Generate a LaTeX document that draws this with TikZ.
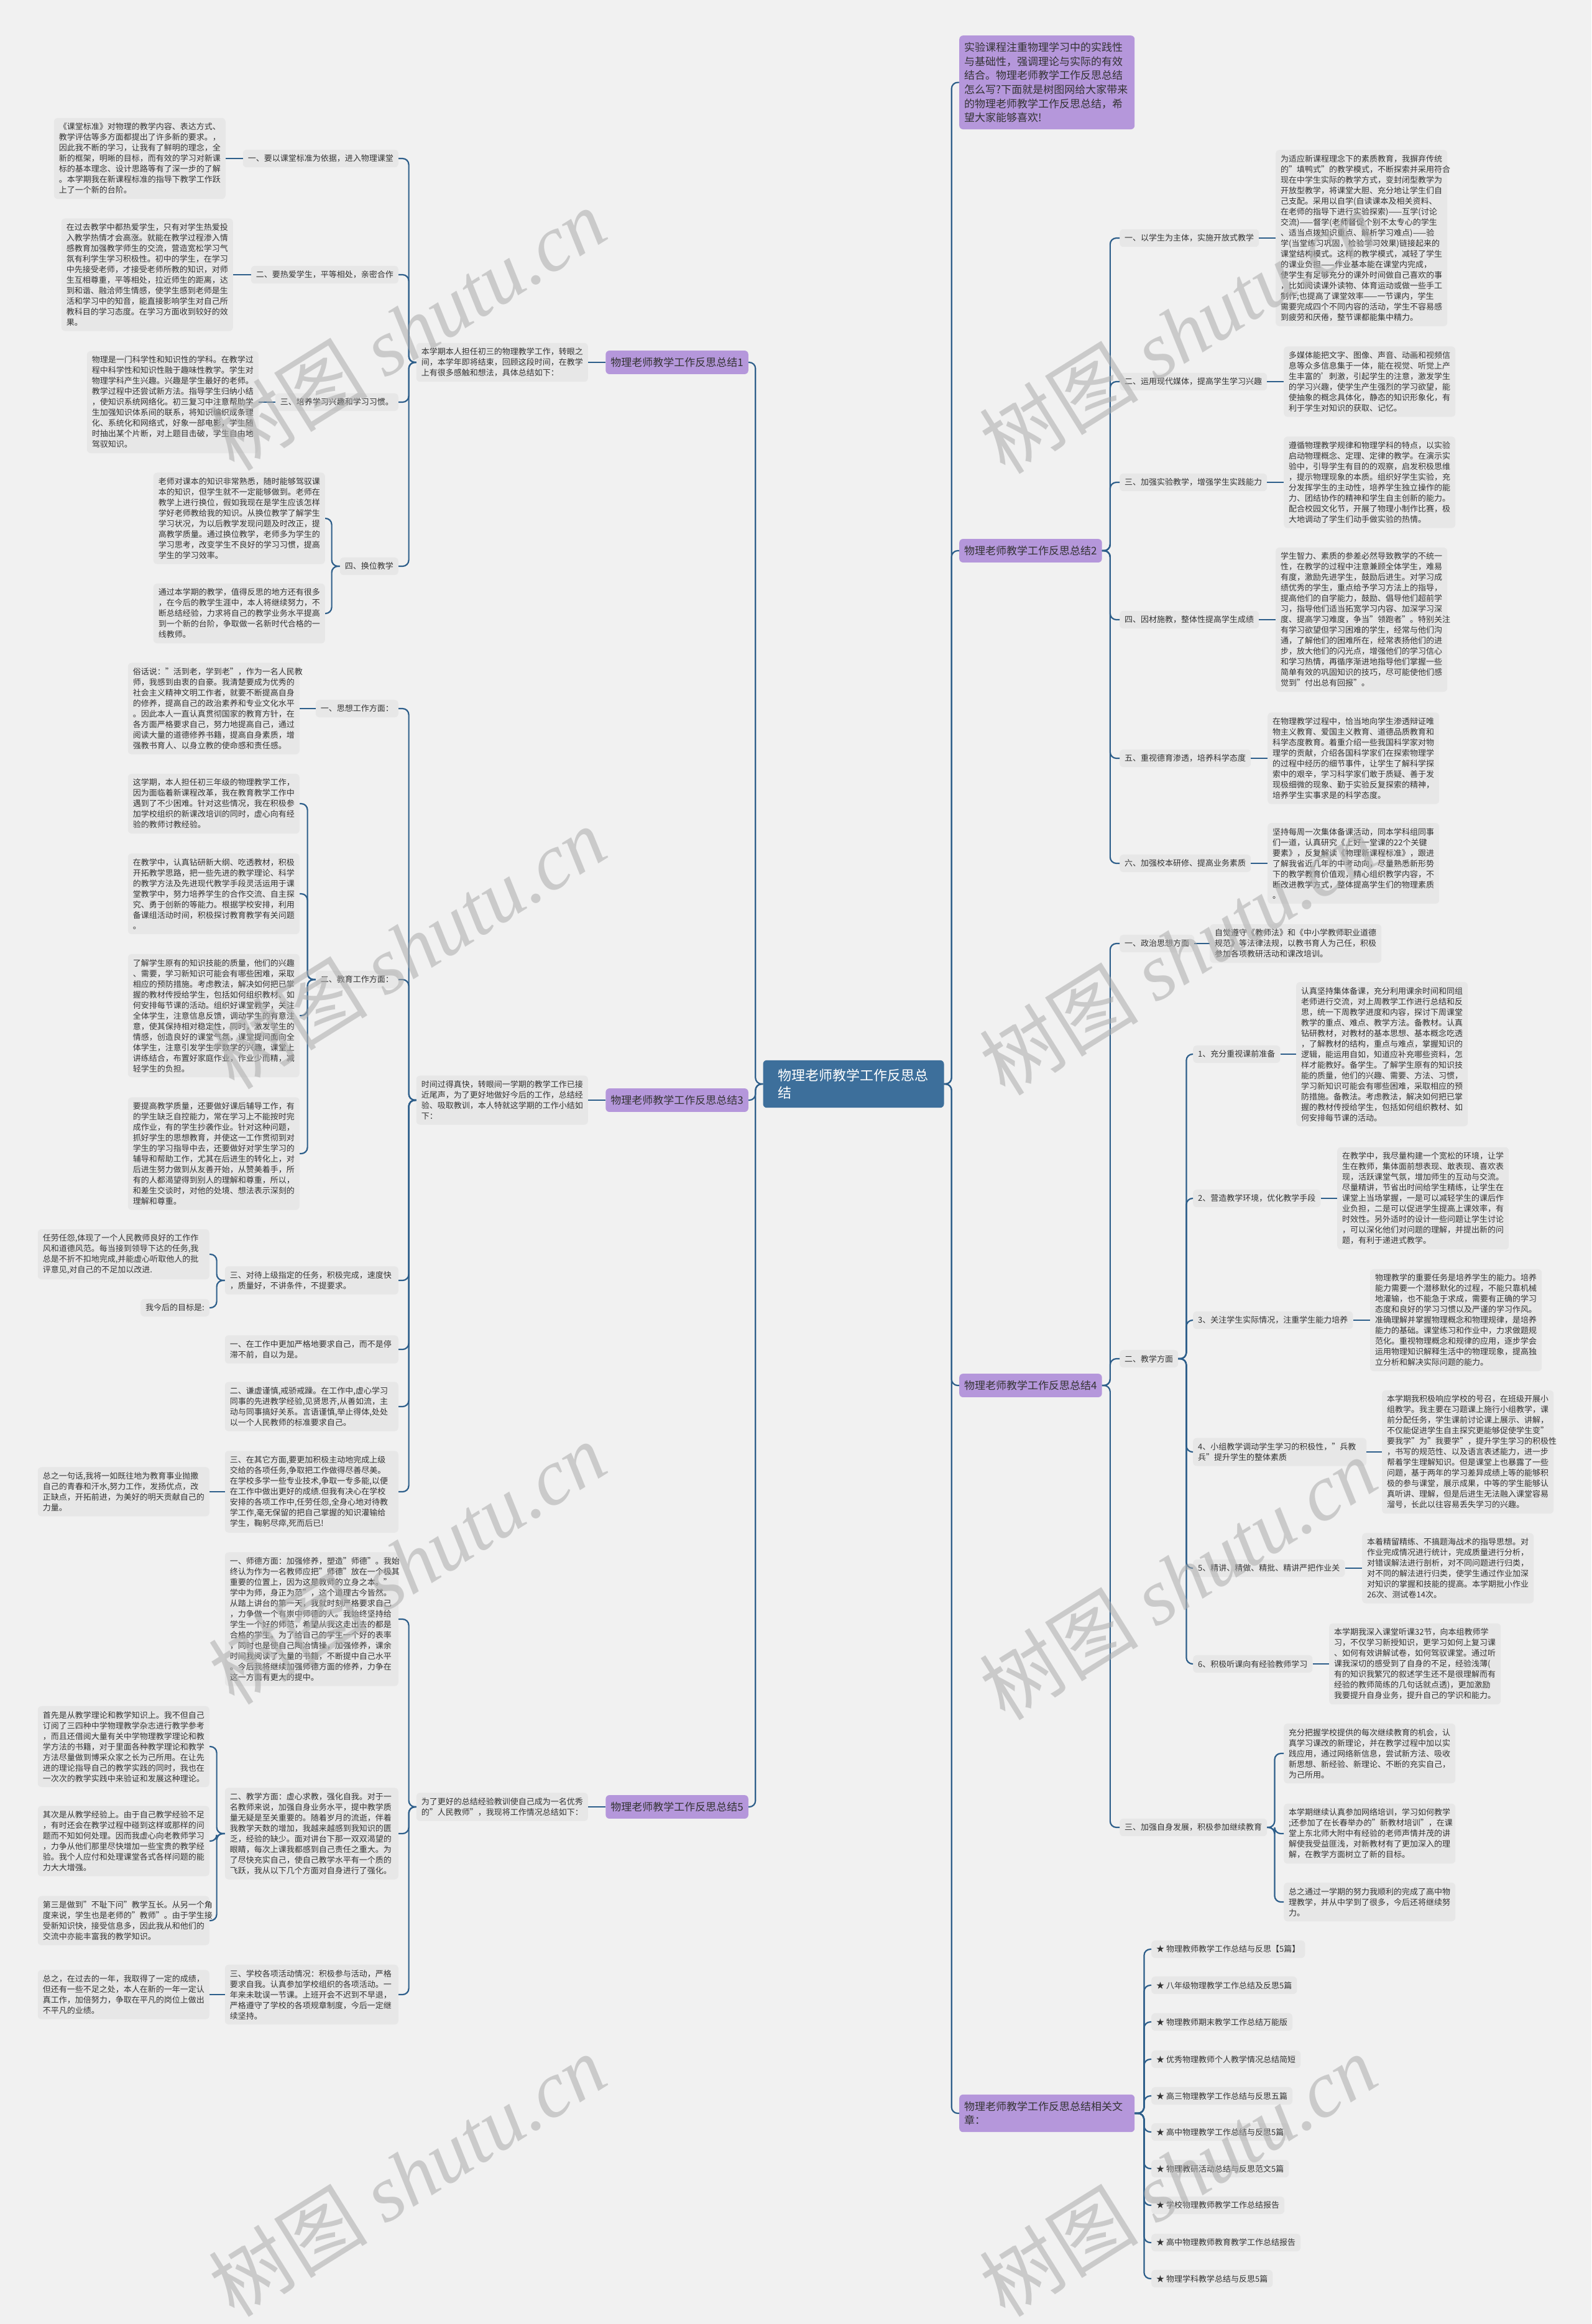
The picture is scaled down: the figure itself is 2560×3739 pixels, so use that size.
\documentclass[tikz,border=0pt]{standalone}
\usepackage{fontspec}
\setmainfont{Noto Sans CJK SC}
\newfontfamily\wmlatin{Liberation Serif}
\usetikzlibrary{calc}
\definecolor{bgc}{HTML}{F1F1F1}
\definecolor{boxc}{HTML}{E7E7E7}
\definecolor{linec}{HTML}{2D5E8A}
\definecolor{purp}{HTML}{B597DB}
\definecolor{rootc}{HTML}{3D6F9B}
\definecolor{txtc}{HTML}{333333}
\begin{document}
\begin{tikzpicture}[x=1pt,y=-1pt,
  conn/.style={draw=linec, line width=2.2pt, rounded corners=10pt},
  blk/.style={fill=boxc, rounded corners=6pt, inner xsep=8pt, inner ysep=8pt, text width=260pt, align=left, font=\fontsize{13}{17}\selectfont, text=txtc},
  lbl/.style={fill=boxc, rounded corners=6pt, inner xsep=8pt, inner ysep=8pt, align=left, font=\fontsize{13}{17}\selectfont, text=txtc},
  lblw/.style={lbl, text width=263pt},
  lvl/.style={fill=purp, rounded corners=6pt, inner xsep=8pt, inner ysep=11pt, font=\fontsize{17}{22.6}\selectfont, text=txtc, align=left},
  rootn/.style={fill=rootc, rounded corners=6pt, inner xsep=24pt, inner ysep=14pt, text width=243pt, align=left, font=\fontsize{22}{28}\selectfont, text=white},
  wm/.style={text=black!33, opacity=0.55, rotate=32, font=\fontsize{128}{128}\selectfont}
]
\fill[bgc] (0,0) rectangle (2560,3739);
\useasboundingbox (0,0) rectangle (2560,3739);

% ---------- root and level 1 ----------
\node[rootn] (root) at (1373,1744) {物理老师教学工作反思总\\结};
\node[lvl, anchor=east] (l1) at (1204,583) {物理老师教学工作反思总结1};
\node[lvl, anchor=east] (l3) at (1204,1770) {物理老师教学工作反思总结3};
\node[lvl, anchor=east] (l5) at (1204,2907) {物理老师教学工作反思总结5};
\node[lvl, anchor=north west, text width=266pt] (intro) at (1543,57) {实验课程注重物理学习中的实践性\\与基础性，强调理论与实际的有效\\结合。物理老师教学工作反思总结\\怎么写?下面就是树图网给大家带来\\的物理老师教学工作反思总结，希\\望大家能够喜欢!};
\node[lvl, anchor=west] (l2) at (1543,886) {物理老师教学工作反思总结2};
\node[lvl, anchor=west] (l4) at (1543,2229) {物理老师教学工作反思总结4};
\node[lvl, anchor=west, text width=266pt] (l6) at (1543,3400) {物理老师教学工作反思总结相关文\\章：};

% ---------- branch 1 ----------
\node[blk, anchor=east] (m1) at (946,583) {本学期本人担任初三的物理教学工作，转眼之\\间，本学年即将结束，回顾这段时间，在教学\\上有很多感触和想法，具体总结如下：};
\node[lbl, anchor=east] (a1) at (641,255) {一、要以课堂标准为依据，进入物理课堂};
\node[lbl, anchor=east] (a2) at (641,442) {二、要热爱学生，平等相处，亲密合作};
\node[lbl, anchor=east] (a3) at (641,647) {三、培养学习兴趣和学习习惯。};
\node[lbl, anchor=east] (a4) at (641,911) {四、换位教学};
\node[blk, anchor=east] (a1b) at (363,255) {《课堂标准》对物理的教学内容、表达方式、\\教学评估等多方面都提出了许多新的要求。，\\因此我不断的学习，让我有了鲜明的理念，全\\新的框架，明晰的目标，而有效的学习对新课\\标的基本理念、设计思路等有了深一步的了解\\。本学期我在新课程标准的指导下教学工作跃\\上了一个新的台阶。};
\node[blk, anchor=east] (a2b) at (375,442) {在过去教学中都热爱学生，只有对学生热爱投\\入教学热情才会高涨。就能在教学过程渗入情\\感教育加强教学师生的交流，营造宽松学习气\\氛有利学生学习积极性。初中的学生，在学习\\中先接受老师，才接受老师所教的知识，对师\\生互相尊重，平等相处，拉近师生的距离，达\\到和谐、融洽师生情感，使学生感到老师是生\\活和学习中的知音，能直接影响学生对自己所\\教科目的学习态度。在学习方面收到较好的效\\果。};
\node[blk, anchor=east] (a3b) at (416,647) {物理是一门科学性和知识性的学科。在教学过\\程中科学性和知识性融于趣味性教学。学生对\\物理学科产生兴趣。兴趣是学生最好的老师。\\教学过程中还尝试新方法。指导学生归纳小结\\，使知识系统网络化。初三复习中注意帮助学\\生加强知识体系间的联系，将知识编织成条理\\化、系统化和网络式，好象一部电影，学生随\\时抽出某个片断，对上题目击破，学生自由地\\驾驭知识。};
\node[blk, anchor=east] (a4b) at (523,834) {老师对课本的知识非常熟悉，随时能够驾驭课\\本的知识，但学生就不一定能够做到。老师在\\教学上进行换位，假如我现在是学生应该怎样\\学好老师教给我的知识。从换位教学了解学生\\学习状况，为以后教学发现问题及时改正，提\\高教学质量。通过换位教学，老师多为学生的\\学习思考，改变学生不良好的学习习惯，提高\\学生的学习效率。};
\node[blk, anchor=east] (a5b) at (523,987) {通过本学期的教学，值得反思的地方还有很多\\，在今后的教学生涯中，本人将继续努力，不\\断总结经验，力求将自己的教学业务水平提高\\到一个新的台阶，争取做一名新时代合格的一\\线教师。};

% ---------- branch 3 ----------
\node[blk, anchor=east] (m3) at (946,1770) {时间过得真快，转眼间一学期的教学工作已接\\近尾声，为了更好地做好今后的工作，总结经\\验、吸取教训，本人特就这学期的工作小结如\\下：};
\node[lbl, anchor=east] (b1) at (641,1140) {一、思想工作方面：};
\node[lbl, anchor=east] (b2) at (641,1576) {二、教育工作方面：};
\node[lblw, anchor=east] (b3) at (641,2060) {三、对待上级指定的任务，积极完成，速度快\\，质量好，不讲条件，不提要求。};
\node[lblw, anchor=east] (b4) at (641,2171) {一、在工作中更加严格地要求自己，而不是停\\滞不前，自以为是。};
\node[lblw, anchor=east] (b5) at (641,2263) {二、谦虚谨慎,戒骄戒躁。在工作中,虚心学习\\同事的先进教学经验,见贤思齐,从善如流，主\\动与同事搞好关系。言语谨慎,举止得体,处处\\以一个人民教师的标准要求自己。};
\node[lblw, anchor=east] (b6) at (641,2400) {三、在其它方面,要更加积极主动地完成上级\\交给的各项任务,争取把工作做得尽善尽美。\\在学校多学一些专业技术,争取一专多能,以便\\在工作中做出更好的成绩.但我有决心在学校\\安排的各项工作中,任劳任怨,全身心地对待教\\学工作,毫无保留的把自己掌握的知识灌输给\\学生，鞠躬尽瘁,死而后已!};
\node[blk, anchor=east] (b1b) at (482,1140) {俗话说："活到老，学到老"，作为一名人民教\\师，我感到由衷的自豪。我清楚要成为优秀的\\社会主义精神文明工作者，就要不断提高自身\\的修养，提高自己的政治素养和专业文化水平\\。因此本人一直认真贯彻国家的教育方针，在\\各方面严格要求自己，努力地提高自己，通过\\阅读大量的道德修养书籍，提高自身素质，增\\强教书育人、以身立教的使命感和责任感。};
\node[blk, anchor=east] (b2b) at (482,1293) {这学期，本人担任初三年级的物理教学工作，\\因为面临着新课程改革，我在教育教学工作中\\遇到了不少困难。针对这些情况，我在积极参\\加学校组织的新课改培训的同时，虚心向有经\\验的教师讨教经验。};
\node[blk, anchor=east] (b3b) at (482,1438) {在教学中，认真钻研新大纲、吃透教材，积极\\开拓教学思路，把一些先进的教学理论、科学\\的教学方法及先进现代教学手段灵活运用于课\\堂教学中，努力培养学生的合作交流、自主探\\究、勇于创新的等能力。根据学校安排，利用\\备课组活动时间，积极探讨教育教学有关问题\\。};
\node[blk, anchor=east] (b4b) at (482,1634) {了解学生原有的知识技能的质量，他们的兴趣\\、需要，学习新知识可能会有哪些困难，采取\\相应的预防措施。考虑教法，解决如何把已掌\\握的教材传授给学生，包括如何组织教材、如\\何安排每节课的活动。组织好课堂教学，关注\\全体学生，注意信息反馈，调动学生的有意注\\意，使其保持相对稳定性，同时，激发学生的\\情感，创造良好的课堂气氛，课堂提问面向全\\体学生，注意引发学生学数学的兴趣，课堂上\\讲练结合，布置好家庭作业，作业少而精，减\\轻学生的负担。};
\node[blk, anchor=east] (b5b) at (482,1856) {要提高教学质量，还要做好课后辅导工作，有\\的学生缺乏自控能力，常在学习上不能按时完\\成作业，有的学生抄袭作业。针对这种问题，\\抓好学生的思想教育，并使这一工作贯彻到对\\学生的学习指导中去，还要做好对学生学习的\\辅导和帮助工作，尤其在后进生的转化上，对\\后进生努力做到从友善开始，从赞美着手，所\\有的人都渴望得到别人的理解和尊重，所以，\\和差生交谈时，对他的处境、想法表示深刻的\\理解和尊重。};
\node[blk, anchor=east] (b6b) at (337,2018) {任劳任怨,体现了一个人民教师良好的工作作\\风和道德风范。每当接到领导下达的任务,我\\总是不折不扣地完成,并能虚心听取他人的批\\评意见,对自己的不足加以改进.};
\node[lbl, anchor=east] (b7b) at (337,2104) {我今后的目标是:};
\node[blk, anchor=east] (b8b) at (337,2400) {总之一句话,我将一如既往地为教育事业抛撒\\自己的青春和汗水,努力工作，发扬优点，改\\正缺点，开拓前进，为美好的明天贡献自己的\\力量。};

% ---------- branch 5 ----------
\node[blk, anchor=east] (m5) at (946,2907) {为了更好的总结经验教训使自己成为一名优秀\\的"人民教师"，我现将工作情况总结如下：};
\node[lblw, anchor=east] (c1) at (641,2605) {一、师德方面：加强修养，塑造"师德"。我始\\终认为作为一名教师应把"师德"放在一个极其\\重要的位置上，因为这是教师的立身之本。"\\学中为师，身正为范"，这个道理古今皆然。\\从踏上讲台的第一天，我就时刻严格要求自己\\，力争做一个有崇中师德的人。我始终坚持给\\学生一个好的师范，希望从我这走出去的都是\\合格的学生。为了给自己的学生一个好的表率\\，同时也是使自己陶冶情操，加强修养，课余\\时间我阅读了大量的书籍，不断提中自己水平\\。今后我将继续加强师德方面的修养，力争在\\这一方面有更大的提中。};
\node[lblw, anchor=east] (c2) at (641,2950) {二、教学方面：虚心求教，强化自我。对于一\\名教师来说，加强自身业务水平，提中教学质\\量无疑是至关重要的。随着岁月的流逝，伴着\\我教学天数的增加，我越来越感到我知识的匮\\乏，经验的缺少。面对讲台下那一双双渴望的\\眼睛，每次上课我都感到自己责任之重大。为\\了尽快充实自己，使自己教学水平有一个质的\\飞跃，我从以下几个方面对自身进行了强化。};
\node[lblw, anchor=east] (c3) at (641,3209) {三、学校各项活动情况：积极参与活动，严格\\要求自我。认真参加学校组织的各项活动。一\\年来未耽误一节课。上班开会不迟到不早退，\\严格遵守了学校的各项规章制度，今后一定继\\续坚持。};
\node[blk, anchor=east] (c2b) at (337,2810) {首先是从教学理论和教学知识上。我不但自己\\订阅了三四种中学物理教学杂志进行教学参考\\，而且还借阅大量有关中学物理教学理论和教\\学方法的书籍，对于里面各种教学理论和教学\\方法尽量做到博采众家之长为己所用。在让先\\进的理论指导自己的教学实践的同时，我也在\\一次次的教学实践中来验证和发展这种理论。};
\node[blk, anchor=east] (c3b) at (337,2962) {其次是从教学经验上。由于自己教学经验不足\\，有时还会在教学过程中碰到这样或那样的问\\题而不知如何处理。因而我虚心向老教师学习\\，力争从他们那里尽快增加一些宝贵的教学经\\验。我个人应付和处理课堂各式各样问题的能\\力大大增强。};
\node[blk, anchor=east] (c4b) at (337,3090) {第三是做到"不耻下问"教学互长。从另一个角\\度来说，学生也是老师的"教师"。由于学生接\\受新知识快，接受信息多，因此我从和他们的\\交流中亦能丰富我的教学知识。};
\node[blk, anchor=east] (c5b) at (337,3209) {总之，在过去的一年，我取得了一定的成绩，\\但还有一些不足之处，本人在新的一年一定认\\真工作，加倍努力，争取在平凡的岗位上做出\\不平凡的业绩。};

% ---------- branch 2 ----------
\node[lbl, anchor=west] (r21) at (1801,383) {一、以学生为主体，实施开放式教学};
\node[lbl, anchor=west] (r22) at (1801,614) {二、运用现代媒体，提高学生学习兴趣};
\node[lbl, anchor=west] (r23) at (1801,776) {三、加强实验教学，增强学生实践能力};
\node[lbl, anchor=west] (r24) at (1801,997) {四、因材施教，整体性提高学生成绩};
\node[lbl, anchor=west] (r25) at (1801,1220) {五、重视德育渗透，培养科学态度};
\node[lbl, anchor=west] (r26) at (1801,1389) {六、加强校本研修、提高业务素质};
\node[blk, anchor=west] (r21b) at (2052,383) {为适应新课程理念下的素质教育，我摒弃传统\\的"填鸭式"的教学模式，不断探索并采用符合\\现在中学生实际的教学方式，变封闭型教学为\\开放型教学，将课堂大胆、充分地让学生们自\\己支配。采用以自学(自读课本及相关资料、\\在老师的指导下进行实验探索)——互学(讨论\\交流)——督学(老师督促个别不太专心的学生\\、适当点拨知识重点、解析学习难点)——验\\学(当堂练习巩固，检验学习效果)链接起来的\\课堂结构模式。这样的教学模式，减轻了学生\\的课业负担——作业基本能在课堂内完成，\\使学生有足够充分的课外时间做自己喜欢的事\\，比如阅读课外读物、体育运动或做一些手工\\制作;也提高了课堂效率——一节课内，学生\\需要完成四个不同内容的活动，学生不容易感\\到疲劳和厌倦，整节课都能集中精力。};
\node[blk, anchor=west] (r22b) at (2065,614) {多媒体能把文字、图像、声音、动画和视频信\\息等众多信息集于一体，能在视觉、听觉上产\\生丰富的'刺激，引起学生的注意，激发学生\\的学习兴趣，使学生产生强烈的学习欲望，能\\使抽象的概念具体化，静态的知识形象化，有\\利于学生对知识的获取、记忆。};
\node[blk, anchor=west] (r23b) at (2065,776) {遵循物理教学规律和物理学科的特点，以实验\\启动物理概念、定理、定律的教学。在演示实\\验中，引导学生有目的的观察，启发积极思维\\，提示物理现象的本质。组织好学生实验，充\\分发挥学生的主动性，培养学生独立操作的能\\力、团结协作的精神和学生自主创新的能力。\\配合校园文化节，开展了物理小制作比赛，极\\大地调动了学生们动手做实验的热情。};
\node[blk, anchor=west] (r24b) at (2052,997) {学生智力、素质的参差必然导致教学的不统一\\性，在教学的过程中注意兼顾全体学生，难易\\有度，激励先进学生，鼓励后进生。对学习成\\绩优秀的学生，重点给予学习方法上的指导，\\提高他们的自学能力，鼓励、倡导他们超前学\\习，指导他们适当拓宽学习内容、加深学习深\\度、提高学习难度，争当"领跑者"。特别关注\\有学习欲望但学习困难的学生，经常与他们沟\\通，了解他们的困难所在，经常表扬他们的进\\步，放大他们的闪光点，增强他们的学习信心\\和学习热情，再循序渐进地指导他们掌握一些\\简单有效的巩固知识的技巧，尽可能使他们感\\觉到"付出总有回报"。};
\node[blk, anchor=west] (r25b) at (2039,1220) {在物理教学过程中，恰当地向学生渗透辩证唯\\物主义教育、爱国主义教育、道德品质教育和\\科学态度教育。着重介绍一些我国科学家对物\\理学的贡献，介绍各国科学家们在探索物理学\\的过程中经历的细节事件，让学生了解科学探\\索中的艰辛，学习科学家们敢于质疑、善于发\\现极细微的现象、勤于实验反复探索的精神，\\培养学生实事求是的科学态度。};
\node[blk, anchor=west] (r26b) at (2039,1389) {坚持每周一次集体备课活动，同本学科组同事\\们一道，认真研究《上好一堂课的22个关键\\要素》，反复解读《物理新课程标准》，跟进\\了解我省近几年的中考动向，尽量熟悉新形势\\下的教学教育价值观，精心组织教学内容，不\\断改进教学方式，整体提高学生们的物理素质\\。};

% ---------- branch 4 ----------
\node[lbl, anchor=west] (r41) at (1801,1518) {一、政治思想方面};
\node[lbl, anchor=west] (r42) at (1801,2186) {二、教学方面};
\node[lbl, anchor=west] (r43) at (1801,2940) {三、加强自身发展，积极参加继续教育};
\node[blk, anchor=west] (r41b) at (1946,1518) {自觉遵守《教师法》和《中小学教师职业道德\\规范》等法律法规，以教书育人为己任，积极\\参加各项教研活动和课改培训。};
\node[lbl, anchor=west] (s1) at (1919,1696) {1、充分重视课前准备};
\node[lbl, anchor=west] (s2) at (1919,1928) {2、营造教学环境，优化教学手段};
\node[lbl, anchor=west] (s3) at (1919,2124) {3、关注学生实际情况，注重学生能力培养};
\node[lblw, anchor=west] (s4) at (1919,2336) {4、小组教学调动学生学习的积极性，"兵教\\兵"提升学生的整体素质};
\node[lbl, anchor=west] (s5) at (1919,2523) {5、精讲、精做、精批、精讲严把作业关};
\node[lbl, anchor=west] (s6) at (1919,2677) {6、积极听课向有经验教师学习};
\node[blk, anchor=west] (s1b) at (2085,1696) {认真坚持集体备课，充分利用课余时间和同组\\老师进行交流，对上周教学工作进行总结和反\\思，统一下周教学进度和内容，探讨下周课堂\\教学的重点、难点、教学方法。备教材。认真\\钻研教材，对教材的基本思想、基本概念吃透\\，了解教材的结构，重点与难点，掌握知识的\\逻辑，能运用自如，知道应补充哪些资料，怎\\样才能教好。备学生。了解学生原有的知识技\\能的质量，他们的兴趣、需要、方法、习惯，\\学习新知识可能会有哪些困难，采取相应的预\\防措施。备教法。考虑教法，解决如何把已掌\\握的教材传授给学生，包括如何组织教材、如\\何安排每节课的活动。};
\node[blk, anchor=west] (s2b) at (2151,1928) {在教学中，我尽量构建一个宽松的环境，让学\\生在教师，集体面前想表现、敢表现、喜欢表\\现，活跃课堂气氛，增加师生的互动与交流。\\尽量精讲，节省出时间给学生精练，让学生在\\课堂上当场掌握，一是可以减轻学生的课后作\\业负担，二是可以促进学生提高上课效率，有\\时效性。另外适时的设计一些问题让学生讨论\\，可以深化他们对问题的理解，并提出新的问\\题，有利于递进式教学。};
\node[blk, anchor=west] (s3b) at (2204,2124) {物理教学的重要任务是培养学生的能力。培养\\能力需要一个潜移默化的过程，不能只靠机械\\地灌输，也不能急于求成，需要有正确的学习\\态度和良好的学习习惯以及严谨的学习作风。\\准确理解并掌握物理概念和物理规律，是培养\\能力的基础。课堂练习和作业中，力求做题规\\范化。重视物理概念和规律的应用，逐步学会\\运用物理知识解释生活中的物理现象，提高独\\立分析和解决实际问题的能力。};
\node[blk, anchor=west] (s4b) at (2223,2336) {本学期我积极响应学校的号召，在班级开展小\\组教学。我主要在习题课上施行小组教学，课\\前分配任务，学生课前讨论课上展示、讲解，\\不仅能促进学生自主探究更能够促使学生变"\\要我学"为"我要学"，提升学生学习的积极性\\，书写的规范性、以及语言表述能力，进一步\\帮着学生理解知识。但是课堂上也暴露了一些\\问题，基于两年的学习差异成绩上等的能够积\\极的参与课堂，展示成果，中等的学生能够认\\真听讲、理解，但是后进生无法融入课堂容易\\溜号，长此以往容易丢失学习的兴趣。};
\node[blk, anchor=west] (s5b) at (2191,2523) {本着精留精练、不搞题海战术的指导思想。对\\作业完成情况进行统计，完成质量进行分析，\\对错误解法进行剖析，对不同问题进行归类，\\对不同的解法进行归类，使学生通过作业加深\\对知识的掌握和技能的提高。本学期批小作业\\26次、测试卷14次。};
\node[blk, anchor=west] (s6b) at (2138,2677) {本学期我深入课堂听课32节，向本组教师学\\习，不仅学习新授知识，更学习如何上复习课\\、如何有效讲解试卷，如何驾驭课堂。通过听\\课我深切的感受到了自身的不足，经验浅薄(\\有的知识我繁冗的叙述学生还不是很理解而有\\经验的教师简练的几句话就点透)，更加激励\\我要提升自身业务，提升自己的学识和能力。};
\node[blk, anchor=west] (t1b) at (2065,2821) {充分把握学校提供的每次继续教育的机会，认\\真学习课改的新理论，并在教学过程中加以实\\践应用，通过网络新信息，尝试新方法、吸收\\新思想、新经验、新理论、不断的充实自己，\\为己所用。};
\node[blk, anchor=west] (t2b) at (2065,2950) {本学期继续认真参加网络培训，学习如何教学\\;还参加了在长春举办的"新教材培训"，在课\\堂上东北师大附中有经验的老师声情并茂的讲\\解使我受益匪浅，对新教材有了更加深入的理\\解，在教学方面树立了新的目标。};
\node[blk, anchor=west] (t3b) at (2065,3060) {总之通过一学期的努力我顺利的完成了高中物\\理教学，并从中学到了很多，今后还将继续努\\力。};

% ---------- related articles ----------
\node[lbl, anchor=west] (k1) at (1852,3136) {★ 物理教师教学工作总结与反思【5篇】};
\node[lbl, anchor=west] (k2) at (1852,3194) {★ 八年级物理教学工作总结及反思5篇};
\node[lbl, anchor=west] (k3) at (1852,3253) {★ 物理教师期末教学工作总结万能版};
\node[lbl, anchor=west] (k4) at (1852,3313) {★ 优秀物理教师个人教学情况总结简短};
\node[lbl, anchor=west] (k5) at (1852,3372) {★ 高三物理教学工作总结与反思五篇};
\node[lbl, anchor=west] (k6) at (1852,3430) {★ 高中物理教学工作总结与反思5篇};
\node[lbl, anchor=west] (k7) at (1852,3489) {★ 物理教研活动总结与反思范文5篇};
\node[lbl, anchor=west] (k8) at (1852,3548) {★ 学校物理教师教学工作总结报告};
\node[lbl, anchor=west] (k9) at (1852,3608) {★ 高中物理教师教育教学工作总结报告};
\node[lbl, anchor=west] (k10) at (1852,3666) {★ 物理学科教学总结与反思5篇};

% ---------- connectors ----------
\foreach \n in {l1,l3,l5} \draw[conn] (root.west) -- ++(-12,0) |- (\n.east);
\foreach \n in {intro,l2,l4,l6} \draw[conn] (root.east) -- ++(12,0) |- (\n.west);
\draw[conn] (l1.west) -- (l1.west -| m1.east);
\draw[conn] (l3.west) -- (l3.west -| m3.east);
\draw[conn] (l5.west) -- (l5.west -| m5.east);
\foreach \n in {a1,a2,a3,a4} \draw[conn] (m1.west) -- ++(-12,0) |- (\n.east);
\foreach \n in {b1,b2,b3,b4,b5,b6} \draw[conn] (m3.west) -- ++(-12,0) |- (\n.east);
\foreach \n in {c1,c2,c3} \draw[conn] (m5.west) -- ++(-12,0) |- (\n.east);
\foreach \p/\c in {a1/a1b,a2/a2b,a3/a3b,b1/b1b,b6/b8b,c3/c5b}
  \draw[conn] (\p.west) -- (\p.west -| \c.east);
\foreach \c in {a4b,a5b} \draw[conn] (a4.west) -- ++(-13,0) |- (\c.east);
\foreach \c in {b2b,b3b,b4b,b5b} \draw[conn] (b2.west) -- ++(-13,0) |- (\c.east);
\foreach \c in {b6b,b7b} \draw[conn] (b3.west) -- ++(-13,0) |- (\c.east);
\foreach \c in {c2b,c3b,c4b} \draw[conn] (c2.west) -- ++(-13,0) |- (\c.east);
\foreach \n in {r21,r22,r23,r24,r25,r26} \draw[conn] (l2.east) -- ++(13,0) |- (\n.west);
\foreach \n in {r41,r42,r43} \draw[conn] (l4.east) -- ++(13,0) |- (\n.west);
\foreach \n in {s1,s2,s3,s4,s5,s6} \draw[conn] (r42.east) -- ++(13,0) |- (\n.west);
\foreach \c in {t1b,t2b,t3b} \draw[conn] (r43.east) -- ++(12,0) |- (\c.west);
\foreach \p/\c in {r21/r21b,r22/r22b,r23/r23b,r24/r24b,r25/r25b,r26/r26b,r41/r41b,s1/s1b,s2/s2b,s3/s3b,s4/s4b,s5/s5b,s6/s6b}
  \draw[conn] (\p.east) -- (\p.east -| \c.west);
\foreach \n in {k1,k2,k3,k4,k5,k6,k7,k8,k9,k10} \draw[conn] (l6.east) -- ++(15,0) |- (\n.west);

% ---------- watermarks ----------
\foreach \wx/\wy [count=\i] in {655/530,655/1525,655/2515,655/3500,1895/535,1895/1535,1895/2540,1895/3500}
  \node[wm] (wm\i) at (\wx,\wy) {树图 {\wmlatin\itshape shutu.cn}};
\end{tikzpicture}
\end{document}
